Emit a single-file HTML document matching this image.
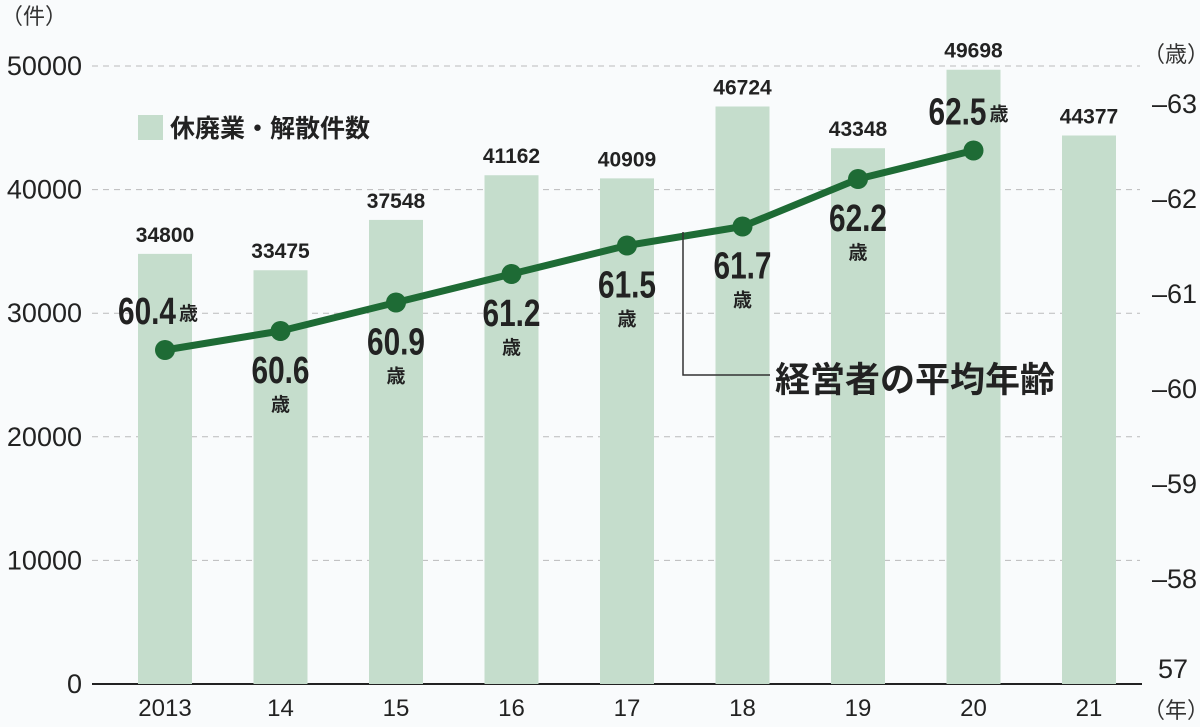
<!DOCTYPE html>
<html><head><meta charset="utf-8">
<style>
body{margin:0;background:#f9fbfc;}
svg{display:block;font-family:"Liberation Sans Narrow","Liberation Sans","Noto Sans CJK JP",sans-serif;}
</style></head>
<body>
<svg id="chart" width="1200" height="727" viewBox="0 0 1200 727">
<rect width="1200" height="727" fill="#f9fbfc"/>
<g id="grid"></g><g id="bars"></g><g id="line"></g><g id="labels"></g>
<text x="34" y="24" font-size="22" fill="#333" text-anchor="middle">（件）</text>
<text x="1176" y="62" font-size="22" fill="#333" text-anchor="middle">（歳）</text>
<text x="1176" y="718" font-size="22" fill="#333" text-anchor="middle">（年）</text>
<rect x="138" y="115" width="25" height="25" fill="#c5ddcc"/>
<text x="170" y="137" font-size="25" font-weight="bold" fill="#222" font-family="'Liberation Sans','Noto Sans CJK JP',sans-serif">休廃業・解散件数</text>
<polyline points="683,232 683,375 770,375" fill="none" stroke="#333" stroke-width="1.5"/>
<text x="775" y="392" font-size="35" font-weight="bold" fill="#222" font-family="'Liberation Sans','Noto Sans CJK JP',sans-serif">経営者の平均年齢</text>
</svg>
<script>
const categories=["2013","14","15","16","17","18","19","20","21"];
const counts=[34800,33475,37548,41162,40909,46724,43348,49698,44377];
const ages=[60.4,60.6,60.9,61.2,61.5,61.7,62.2,62.5];
const leftTicks=[0,10000,20000,30000,40000,50000];
const rightTicks=[57,58,59,60,61,62,63];
const NS="http://www.w3.org/2000/svg";
const base=684;
function yL(v){return base-v*618/50000;}
function yR(a){return 673-(a-57)*95;}
function xS(i){return 165+i*115.5;}
function mk(tag,attrs,parent,txt){const e=document.createElementNS(NS,tag);for(const k in attrs)e.setAttribute(k,attrs[k]);if(txt!==undefined)e.textContent=txt;parent.appendChild(e);return e;}
const grid=document.getElementById('grid'),bars=document.getElementById('bars'),line=document.getElementById('line'),labels=document.getElementById('labels');
leftTicks.forEach(t=>{
  if(t>0){const l=mk('line',{x1:92,x2:1140,y1:yL(t),y2:yL(t),stroke:'#bbb','stroke-dasharray':'6 5','stroke-width':1},grid);
  
  }
  const tx=mk('text',{x:82,y:yL(t)+9,'font-size':27,'text-anchor':'end',fill:'#222'},grid,String(t));
  
  
});
rightTicks.forEach(t=>{
  const tx=mk('text',{x:1152,y:t===57?base-6:yR(t)+10,'font-size':27,fill:'#222'},grid,(t===57?'':'\u2013')+t);
  if(t===57)tx.setAttribute('x',1158);
  
  
});
counts.forEach((v,i)=>{
  const r=mk('rect',{x:xS(i)-27,y:yL(v),width:54,height:base-yL(v),fill:'#c5ddcc'},bars);
  
  
  const t=mk('text',{x:xS(i),y:yL(v)-12,'font-size':21,'font-weight':'bold','text-anchor':'middle',fill:'#222'},labels,String(v));
  
  
  const c=mk('text',{x:xS(i),y:716,'font-size':24,'text-anchor':'middle',fill:'#222'},labels,categories[i]);
  
  
});
const ax=mk('line',{x1:92,x2:1142,y1:base,y2:base,stroke:'#222','stroke-width':2},grid);


const pl=mk('polyline',{points:ages.map((a,i)=>xS(i)+','+yR(a)).join(' '),fill:'none',stroke:'#1e6b35','stroke-width':7,'stroke-linejoin':'round'},line);


ages.forEach((a,i)=>{
  const c=mk('circle',{cx:xS(i),cy:yR(a),r:10,fill:'#1e6b35'},line);
  
  
  if(i===0||i===ages.length-1){
    const x0=i===0?xS(i)-47:xS(i)-45;
    const g=mk('text',{x:x0,y:yR(a)-26,'font-size':38,'font-weight':'bold',fill:'#222',textLength:58,lengthAdjust:'spacingAndGlyphs'},labels,a.toFixed(1));
    
    
    const s=mk('text',{x:x0+61,y:yR(a)-30,'font-size':19,'font-weight':'bold',fill:'#222','font-family':"'Noto Sans CJK JP',sans-serif"},labels,'歳');
    
    
  } else {
    const g=mk('text',{x:xS(i)-29,y:yR(a)+52,'font-size':38,'font-weight':'bold',fill:'#222',textLength:58,lengthAdjust:'spacingAndGlyphs'},labels,a.toFixed(1));
    
    
    const s=mk('text',{x:xS(i),y:yR(a)+80,'font-size':19,'font-weight':'bold','text-anchor':'middle',fill:'#222','font-family':"'Noto Sans CJK JP',sans-serif"},labels,'歳');
    
    
  }
});
</script>
</body></html>
